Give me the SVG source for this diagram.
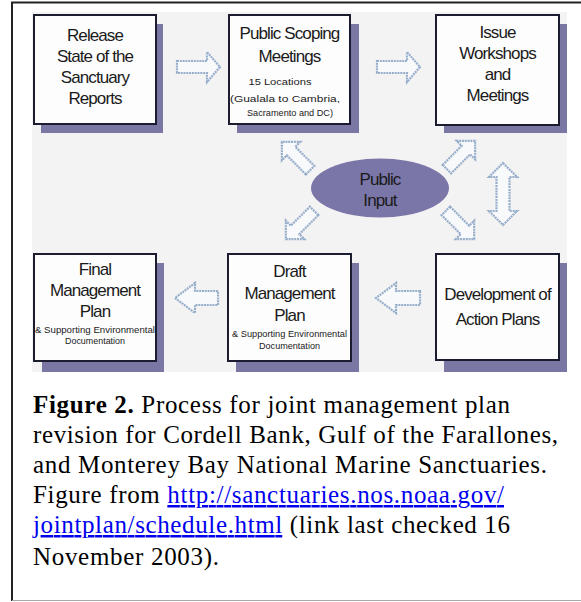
<svg xmlns="http://www.w3.org/2000/svg" width="581" height="602" viewBox="0 0 581 602">
<style>
.box{fill:#fdfdfd;stroke:#1c1c30;stroke-width:2}
.sh{fill:#7b77a4}
.t{font-family:"Liberation Sans",Arial,sans-serif;font-size:17px;letter-spacing:-0.9px;fill:#1a1a1a;text-anchor:middle}
.s{font-family:"Liberation Sans",Arial,sans-serif;font-size:9.5px;fill:#1a1a1a;text-anchor:middle}
.ar{fill:#f8f9fb;stroke:#97aecb;stroke-width:2.2;stroke-dasharray:2 0.8}
.cap{font-family:"Liberation Serif","Times New Roman",serif;font-size:25px;fill:#000}
.lnk{fill:#0000ee;text-decoration:underline}
</style>
<defs>
<path id="da" d="M-20,-6 H7 V-13 L20,0 L7,13 V6 H-20 Z"/>
</defs>
<rect x="0" y="0" width="581" height="602" fill="#fff"/>
<line x1="11" y1="2.5" x2="581" y2="2.5" stroke="#222" stroke-width="2"/>
<line x1="12" y1="2" x2="12" y2="601" stroke="#222" stroke-width="2"/>
<line x1="12" y1="600.5" x2="581" y2="600.5" stroke="#aaa" stroke-width="1"/>
<rect x="32" y="12" width="535" height="360" fill="#f3f3f3"/>

<g id="connectors">
<path class="ar" d="M177,61 H207 V52 L220,67 L207,82 V73 H177 Z"/>
<path class="ar" d="M377,61 H407 V52 L420,67 L407,82 V73 H377 Z"/>
<path class="ar" d="M218,291 H195 V283 L175,298 L195,313 V305 H218 Z"/>
<path class="ar" d="M420,291 H396 V283 L376,298 L396,313 V305 H420 Z"/>
<use href="#da" class="ar" transform="translate(296,156) rotate(-135)"/>
<use href="#da" class="ar" transform="translate(300,225) rotate(135)"/>
<use href="#da" class="ar" transform="translate(461,155) rotate(-45)"/>
<use href="#da" class="ar" transform="translate(460,225) rotate(45)"/>
<path class="ar" d="M503,163 L517,177 H509.5 V211 H517 L503,225 L489,211 H496.5 V177 H489 Z"/>
</g>

<g id="release">
<rect class="sh" x="41" y="24" width="122" height="109"/>
<rect class="box" x="34" y="15" width="122" height="109"/>
<text class="t" x="95" y="41">Release</text>
<text class="t" x="95" y="62">State of the</text>
<text class="t" x="95" y="83">Sanctuary</text>
<text class="t" x="95" y="104">Reports</text>
</g>

<g id="scoping">
<rect class="sh" x="237" y="24" width="122" height="109"/>
<rect class="box" x="229" y="15" width="121" height="109"/>
<text class="t" x="289.5" y="39">Public Scoping</text>
<text class="t" x="289.5" y="62">Meetings</text>
<text class="s" x="280" y="85" textLength="63" lengthAdjust="spacingAndGlyphs">15 Locations</text>
<text class="s" x="285" y="102" textLength="110" lengthAdjust="spacingAndGlyphs">(Gualala to Cambria,</text>
<text class="s" x="290" y="116" textLength="86" lengthAdjust="spacingAndGlyphs">Sacramento and DC)</text>
</g>

<g id="workshops">
<rect class="sh" x="444" y="24" width="123" height="109"/>
<rect class="box" x="436" y="15" width="123" height="110"/>
<text class="t" x="497.5" y="38">Issue</text>
<text class="t" x="497.5" y="59">Workshops</text>
<text class="t" x="497.5" y="80">and</text>
<text class="t" x="497.5" y="101">Meetings</text>
</g>

<g id="public-input">
<ellipse cx="380" cy="188" rx="69" ry="29.5" fill="#7a76a8"/>
<text class="t" x="380" y="185">Public</text>
<text class="t" x="380" y="206">Input</text>
</g>

<g id="final">
<rect class="sh" x="42" y="263" width="122" height="109"/>
<rect class="box" x="34" y="254" width="122" height="107"/>
<text class="t" x="95" y="275">Final</text>
<text class="t" x="95" y="296">Management</text>
<text class="t" x="95" y="317">Plan</text>
<text class="s" x="95" y="333" textLength="120" lengthAdjust="spacingAndGlyphs">&amp; Supporting Environmental</text>
<text class="s" x="95" y="344" textLength="60" lengthAdjust="spacingAndGlyphs">Documentation</text>
</g>

<g id="draft">
<rect class="sh" x="236" y="263" width="123" height="109"/>
<rect class="box" x="228" y="254" width="123" height="107"/>
<text class="t" x="289.5" y="277">Draft</text>
<text class="t" x="289.5" y="299">Management</text>
<text class="t" x="289.5" y="321">Plan</text>
<text class="s" x="289.5" y="337" textLength="115" lengthAdjust="spacingAndGlyphs">&amp; Supporting Environmental</text>
<text class="s" x="289.5" y="349" textLength="61" lengthAdjust="spacingAndGlyphs">Documentation</text>
</g>

<g id="development">
<rect class="sh" x="444" y="263" width="123" height="109"/>
<rect class="box" x="436" y="254" width="123" height="106"/>
<text class="t" x="497.5" y="300">Development of</text>
<text class="t" x="497.5" y="325">Action Plans</text>
</g>

<g id="caption" class="cap">
<text x="33" y="413" textLength="477" lengthAdjust="spacing"><tspan font-weight="bold">Figure 2.</tspan> Process for joint management plan</text>
<text x="33" y="443" textLength="525" lengthAdjust="spacing">revision for Cordell Bank, Gulf of the Farallones,</text>
<text x="33" y="473" textLength="514" lengthAdjust="spacing">and Monterey Bay National Marine Sanctuaries.</text>
<text x="33" y="503" textLength="471" lengthAdjust="spacing">Figure from <tspan class="lnk">http://sanctuaries.nos.noaa.gov/</tspan></text>
<text x="33" y="533" textLength="477" lengthAdjust="spacing"><tspan class="lnk">jointplan/schedule.html</tspan> (link last checked 16</text>
<text x="33" y="565" textLength="186" lengthAdjust="spacing">November 2003).</text>
</g>
</svg>
